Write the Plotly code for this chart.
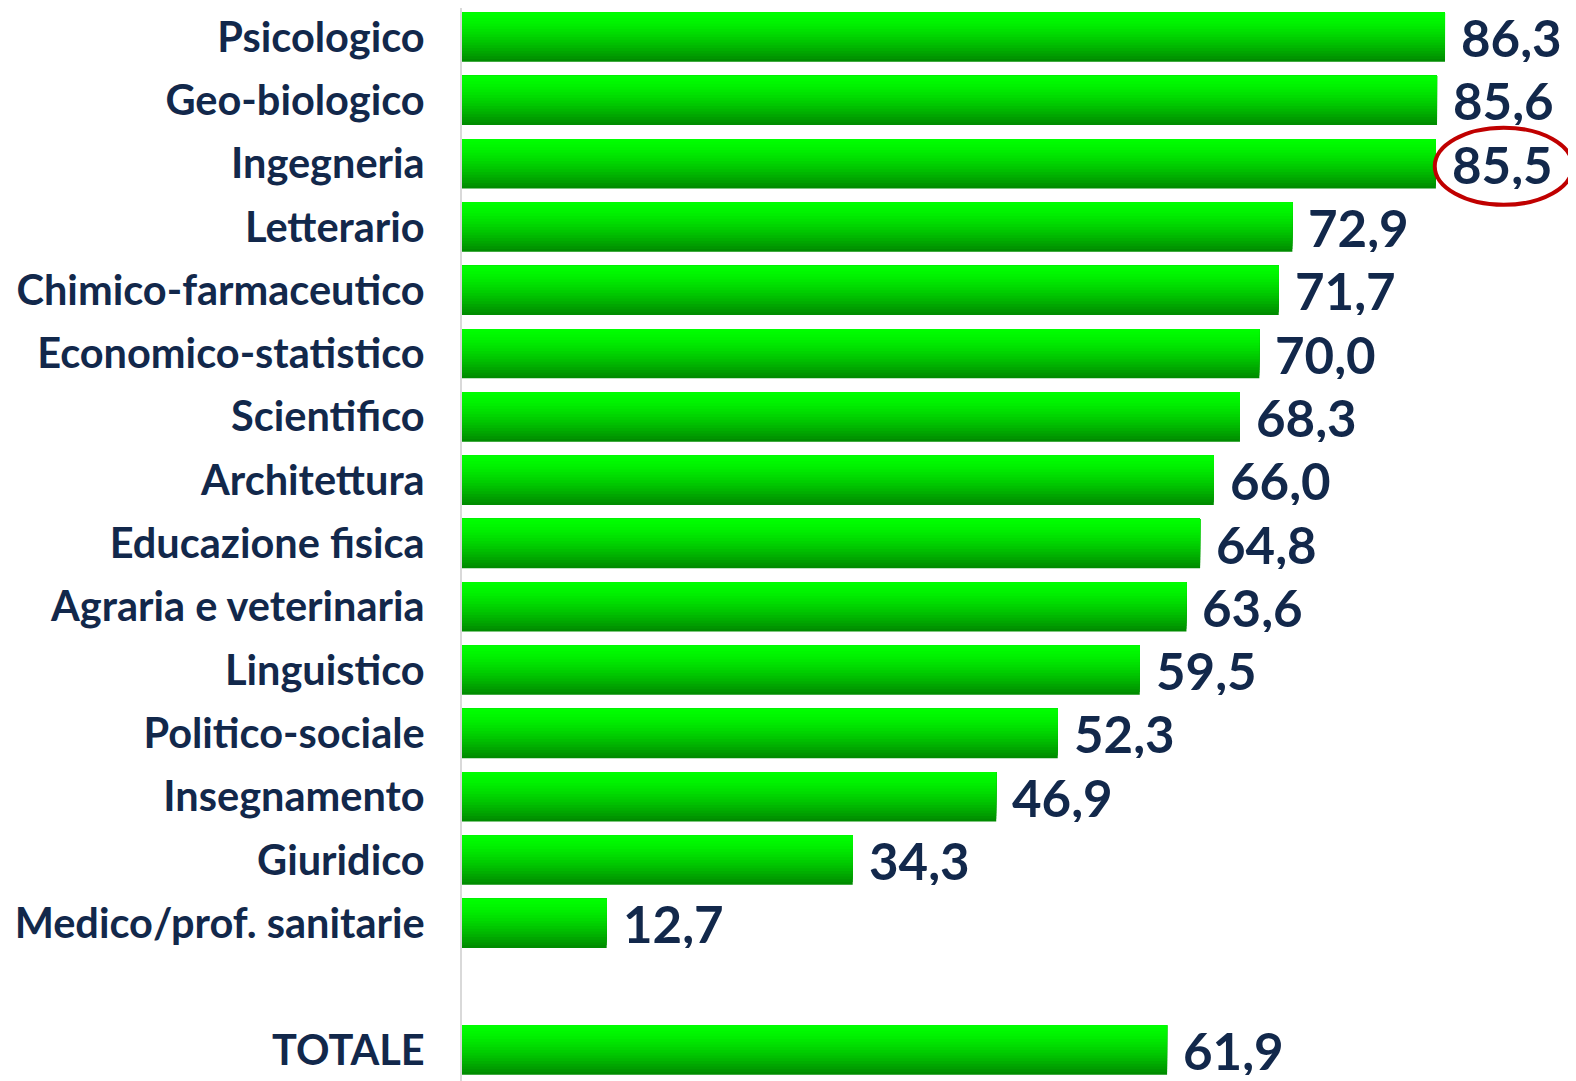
import plotly.graph_objects as go

categories = ["Psicologico", "Geo-biologico", "Ingegneria", "Letterario",
              "Chimico-farmaceutico", "Economico-statistico", "Scientifico",
              "Architettura", "Educazione fisica", "Agraria e veterinaria",
              "Linguistico", "Politico-sociale", "Insegnamento", "Giuridico",
              "Medico/prof. sanitarie", " ", "TOTALE"]
values = [86.3, 85.6, 85.5, 72.9, 71.7, 70.0, 68.3, 66.0, 64.8, 63.6,
          59.5, 52.3, 46.9, 34.3, 12.7, None, 61.9]
highlight = "Ingegneria"

TEXT = "#12284b"
FONT = "Lato"
BAR_W = 0.78
N = 18  # gradient layers

fig = go.Figure()
for k in range(N):
    t = (k + 0.5) / N
    frac_top = 1 - t
    g = int(round(255 - 120 * (frac_top ** 1.4)))
    color = f"rgb(0,{g},0)"
    fig.add_trace(go.Bar(
        y=categories, x=values, orientation="h",
        width=BAR_W * (1 - k / N), offset=-BAR_W / 2,
        marker=dict(color=color, line=dict(width=0)),
        hoverinfo="skip", showlegend=False,
    ))

for c, v in zip(categories, values):
    if v is None:
        continue
    fig.add_annotation(x=v, y=c, xref="x", yref="y", text=f"{v:.1f}".replace(".", ","),
                       showarrow=False, xanchor="left", xshift=14, height=50,
                       font=dict(family=FONT, size=51, color=TEXT, weight="bold"))

hi = categories.index(highlight)
hv = values[hi]
fig.add_shape(type="circle", xref="x", yref="y",
              x0=hv - 0.1, x1=hv + 12.0, y0=hi - 0.57, y1=hi + 0.65,
              line=dict(color="#c00000", width=4))

fig.update_layout(
    width=1568, height=1073,
    margin=dict(l=454, r=0, t=0, b=0),
    paper_bgcolor="white", plot_bgcolor="white",
    barmode="overlay",
    xaxis=dict(range=[0, 97.8], visible=False, showgrid=False, zeroline=False),
    yaxis=dict(categoryorder="array", categoryarray=categories,
               range=[16.49, -0.46],
               showline=True, linecolor="#d9d9d9", linewidth=2,
               ticks="outside", ticklen=27, tickcolor="rgba(0,0,0,0)",
               showgrid=False, zeroline=False,
               tickfont=dict(family=FONT, size=41.5, color=TEXT, weight="bold")),
)

fig.write_html("out.html")
